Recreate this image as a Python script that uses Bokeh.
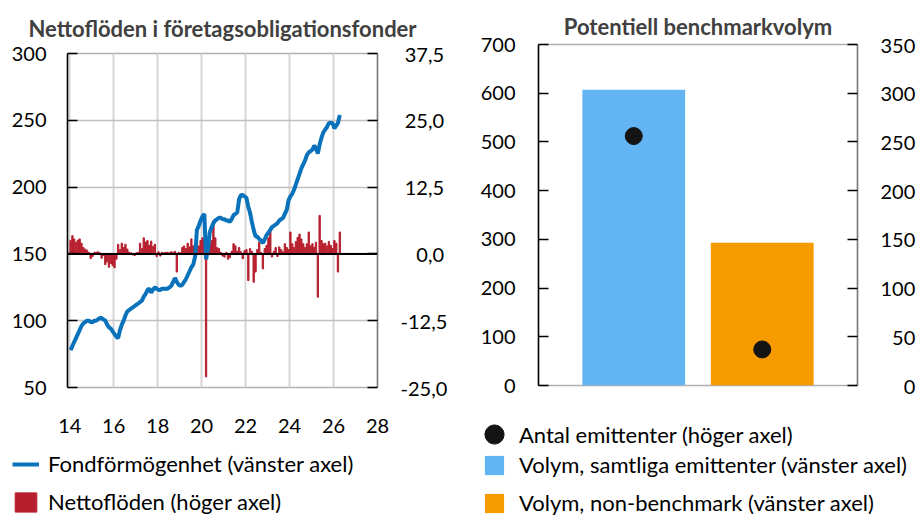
import pandas as pd
from bokeh.plotting import figure
from bokeh.models import (Range1d, LinearAxis, FixedTicker, Span, Legend, LegendItem,
                          CustomJSTickFormatter, ColumnDataSource, FactorRange)
from bokeh.layouts import row, column
from bokeh.embed import file_html
from bokeh.resources import INLINE

FONT = "Lato"

# ---------------- Left chart data (monthly, from Jan 2014) ----------------
first_month = "2014-01-01"
fund_assets = [
    78, 81, 84, 87, 90, 93, 96, 98, 99, 100, 100, 99,          # 2014
    99, 100, 100, 101, 102, 102, 101, 100, 97, 95, 94, 92,     # 2015
    90, 88, 87, 93, 97, 100, 104, 107, 108, 109, 110, 111,     # 2016
    112, 113, 114, 115, 118, 120, 123, 124, 121, 123, 125, 124,  # 2017
    123, 123, 124, 124, 124, 124, 125, 126, 129, 132, 129, 127,  # 2018
    126, 127, 129, 131, 134, 137, 140, 142, 148, 168, 171, 175,  # 2019
    178, 180, 146, 153, 166, 170, 173, 175, 176, 177, 177, 176,  # 2020
    176, 175, 175, 174, 176, 179, 180, 181, 191, 194, 194, 193,  # 2021
    192, 185, 181, 174, 168, 163, 163, 161, 160, 158, 161, 164,  # 2022
    166, 168, 170, 171, 172, 173, 175, 176, 177, 180, 183, 190,  # 2023
    193, 195, 198, 202, 206, 210, 214, 217, 220, 224, 226, 227,  # 2024
    228, 231, 229, 225, 232, 237, 241, 243, 245, 248, 248, 248,  # 2025
    244, 246, 248, 254,                                          # 2026
]
net_flows = [
    2.5, 3.4, 2.8, 2.2, 2.6, 2.8, 2.0, 1.2, 0.9, 0.7, 0.3, -0.9,      # 2014
    -0.5, 0.3, 0.3, 0.4, 0.2, -0.8, -0.3, -2.0, -1.5, -2.5, -1.8, -2.2,  # 2015
    -2.6, -1.0, 1.8, 0.8, 2.0, 1.2, 1.8, 0.9, 0.3, 0.2, -0.2, -0.3,   # 2016
    0.2, 0.3, 2.0, 1.0, 3.0, 2.2, 2.5, 1.6, 2.4, 1.4, 1.8, -0.5,      # 2017
    0.4, -0.4, 0.3, 0.2, 0.3, 0.3, 0.2, 0.4, 0.3, 0.5, -3.4, 0.3,     # 2018
    0.2, 1.2, 1.5, 1.0, 2.0, 1.3, 2.8, 1.5, 2.0, 2.5, 1.5, 2.5,       # 2019
    3.0, 2.5, -23.0, 1.0, 1.9, 2.5, 6.2, 3.0, 1.2, 1.0, 0.3, -0.4,    # 2020
    -0.6, 0.3, -1.0, -0.7, 0.5, 1.9, 1.5, 0.5, 1.2, 0.4, -0.9, 0.6,   # 2021
    0.8, -5.0, 1.0, 0.5, -5.3, -3.4, 0.8, 2.2, 0.3, -2.8, 1.0, 1.6,   # 2022
    3.0, 4.8, -0.6, 0.5, 1.2, -0.5, 1.3, 0.8, 0.4, 1.9, 1.2, 0.8,     # 2023
    4.1, 1.9, 1.2, 2.3, 3.1, 3.7, 2.8, 1.9, 1.2, 1.9, 4.1, 1.5,       # 2024
    1.9, 1.2, 2.2, -8.1, 7.2, 2.5, 1.9, 2.0, 1.5, 2.3, 1.6, 1.0,      # 2025
    2.5, 2.0, -3.4, 4.1,                                              # 2026
]
year_ticks = [2014, 2016, 2018, 2020, 2022, 2024, 2026, 2028]
left_ticks = [50, 100, 150, 200, 250, 300]
right_ticks = [-25, -12.5, 0, 12.5, 25, 37.5]
left_legend = ["Fondförmögenhet (vänster axel)", "Nettoflöden (höger axel)"]

# ---------------- Right chart data ----------------
categories = ["Samtliga emittenter", "Non-benchmark"]
volume = [607, 293]
issuers = [256, 37]
vol_ticks = [0, 100, 200, 300, 400, 500, 600, 700]
count_ticks = [0, 50, 100, 150, 200, 250, 300, 350]
right_legend = ["Antal emittenter (höger axel)",
                "Volym, samtliga emittenter (vänster axel)",
                "Volym, non-benchmark (vänster axel)"]

BLUE_LINE = "#0A72BA"
RED = "#B71F2E"
BAR_COLORS = ["#62B5F2", "#F59B00"]
DOT = "#141414"
TITLE_COLOR = "#404040"
FS = "20px"      # tick labels
LFS = "22px"     # legend labels
TFS = "22px"     # titles


def style_yaxis(ax, standoff, line_color):
    ax.major_tick_in = 10
    ax.major_tick_out = 0
    ax.major_tick_line_color = "black"
    ax.major_tick_line_width = 1.5
    ax.minor_tick_line_color = None
    ax.axis_line_color = line_color
    ax.axis_line_width = 1.5
    ax.major_label_standoff = standoff
    ax.major_label_text_font = FONT
    ax.major_label_text_font_size = FS
    ax.major_label_text_color = "black"


def style_title(p, standoff):
    p.title.align = "center"
    p.title.text_font = FONT
    p.title.text_font_size = TFS
    p.title.text_color = TITLE_COLOR
    p.title.standoff = standoff


def legend_figure(height):
    # strip below a chart that only holds its legend (proxies drawn out of view)
    f = figure(width=459, height=height, output_backend="svg", toolbar_location=None,
               x_axis_location=None, y_axis_location=None, min_border=0,
               x_range=Range1d(0, 1), y_range=Range1d(0, 1))
    f.frame_align = False
    f.grid.visible = False
    f.outline_line_color = None
    return f


def make_legend(items, location, gw, gh, standoff):
    return Legend(items=items, location=location, orientation="vertical",
                  glyph_width=gw, glyph_height=gh, label_height=24, label_standoff=standoff,
                  spacing=11, padding=0, margin=0, border_line_color=None,
                  background_fill_alpha=0, label_text_font=FONT, label_text_font_size=LFS,
                  label_text_color="black")


# ======================= Left figure =======================
months = pd.date_range(first_month, periods=len(fund_assets), freq="MS") + pd.Timedelta(days=14)
src1 = ColumnDataSource(dict(date=months, assets=fund_assets, flow=net_flows))

p1 = figure(width=459, height=440, x_axis_type="datetime",
            x_range=Range1d(pd.Timestamp("2013-11-25"), pd.Timestamp("2028-01-01")),
            y_range=Range1d(50, 300), output_backend="svg", toolbar_location=None,
            min_border_left=67, min_border_right=82, min_border_top=53, min_border_bottom=53,
            title="Nettoflöden i företagsobligationsfonder")
p1.frame_align = False
p1.extra_y_ranges = {"flows": Range1d(-25, 37.5)}
style_title(p1, 24)

p1.outline_line_color = "#b0b0b0"
p1.outline_line_width = 1.5
p1.xgrid.grid_line_color = "#d6d6d6"
p1.xgrid.grid_line_width = 2
p1.ygrid.grid_line_color = "#c0c0c0"
p1.ygrid.grid_line_width = 1.5

year_ms = [pd.Timestamp(f"{y}-01-01").value // 10**6 for y in year_ticks]
xa = p1.xaxis[0]
xa.ticker = FixedTicker(ticks=year_ms)
xa.formatter = CustomJSTickFormatter(code="return String(new Date(tick).getUTCFullYear() % 100)")
xa.axis_line_color = None
xa.major_tick_in = 0
xa.major_tick_out = 0
xa.minor_tick_line_color = None
xa.major_label_standoff = 31
xa.major_label_text_font = FONT
xa.major_label_text_font_size = FS
xa.major_label_text_color = "black"

ya = p1.yaxis[0]
ya.ticker = FixedTicker(ticks=left_ticks)
style_yaxis(ya, 21, "black")

ra = LinearAxis(y_range_name="flows", ticker=FixedTicker(ticks=right_ticks),
                formatter=CustomJSTickFormatter(code="""
                    let s = tick.toFixed(1).replace('.', ',');
                    if (tick >= 0) { s = '\\u2008' + s; }
                    if (Math.abs(tick) < 10) { s = '\\u2007' + s; }
                    return s;"""))
style_yaxis(ra, 23, "#7f7f7f")
p1.add_layout(ra, "right")

p1.vbar(x="date", top="flow", width=22 * 86400000, y_range_name="flows",
        color=RED, source=src1)
zero = Span(location=0, dimension="width", y_range_name="flows",
            line_color="black", line_width=2, level="glyph")
p1.add_layout(zero)
p1.line(x="date", y="assets", line_width=4, color=BLUE_LINE, source=src1)

# legend strip under the left chart
l1 = legend_figure(76)
k1 = l1.line(x="date", y="assets", line_width=4, color=BLUE_LINE, source=src1)
k2 = l1.vbar(x="date", top="flow", width=1, color=RED, source=src1)
l1.add_layout(make_legend([LegendItem(label=left_legend[0], renderers=[k1]),
                           LegendItem(label=left_legend[1], renderers=[k2])],
                          (12, 1), 27, 24, 9))

# ======================= Right figure =======================
src2 = ColumnDataSource(dict(cat=categories, vol=volume, issuers=issuers, color=BAR_COLORS))
p2 = figure(width=459, height=410,
            x_range=FactorRange(factors=categories, range_padding=0.2415),
            y_range=Range1d(0, 700), output_backend="svg", toolbar_location=None,
            x_axis_location=None,
            min_border_left=79, min_border_right=60, min_border_top=44, min_border_bottom=25,
            title="Potentiell benchmarkvolym")
p2.frame_align = False
p2.extra_y_ranges = {"count": Range1d(0, 350)}
style_title(p2, 9)

p2.outline_line_color = "#b0b0b0"
p2.outline_line_width = 1.5
p2.grid.visible = False

ly = p2.yaxis[0]
ly.ticker = FixedTicker(ticks=vol_ticks)
style_yaxis(ly, 23, "black")

ry = LinearAxis(y_range_name="count", ticker=FixedTicker(ticks=count_ticks),
                formatter=CustomJSTickFormatter(code="""
                    let s = String(tick);
                    while (s.length < 3) { s = '\\u2007' + s; }
                    return s;"""))
style_yaxis(ry, 23, "#7f7f7f")
p2.add_layout(ry, "right")

p2.vbar(x="cat", top="vol", width=0.8, fill_color="color", line_color=None, source=src2)
p2.scatter(x="cat", y="issuers", size=17, color=DOT, y_range_name="count", source=src2)

# legend strip under the right chart
l2 = legend_figure(106)
j1 = l2.scatter(x="vol", y="issuers", size=19, color=DOT, source=src2)
j2 = l2.vbar(x="vol", top="vol", width=1, fill_color="color", line_color=None, source=src2)
# dot item: a larger glyph box so that the legend marker is drawn at full size
l2.add_layout(make_legend([LegendItem(label=right_legend[0], renderers=[j1])],
                          (11, 58), 48, 48, 1))
l2.add_layout(make_legend([LegendItem(label=right_legend[1], renderers=[j2], index=0),
                           LegendItem(label=right_legend[2], renderers=[j2], index=1)],
                          (23, 0), 24, 24, 13))

layout = row(column(p1, l1), column(p2, l2))
open("out.html", "w").write(file_html(layout, INLINE))
